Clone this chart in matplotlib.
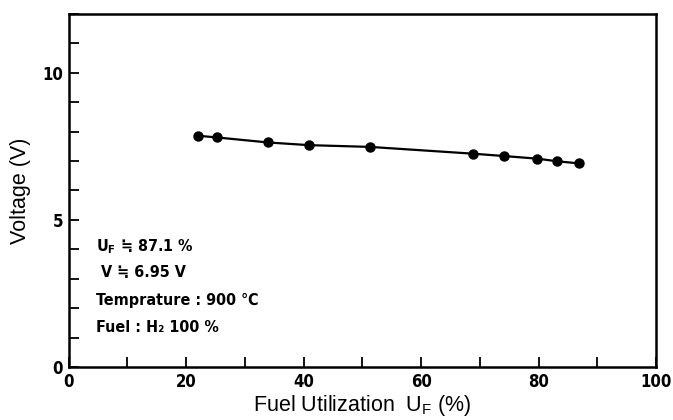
import matplotlib
matplotlib.use("Agg")
import matplotlib.pyplot as plt
from matplotlib.ticker import MultipleLocator

# fuel utilization (%) and stack voltage (V)
fuel_util = [22.0, 25.3, 34.0, 40.9, 51.3, 68.8, 74.1, 79.8, 83.2, 86.9]
voltage = [7.86, 7.80, 7.63, 7.54, 7.48, 7.25, 7.17, 7.08, 6.99, 6.92]

note_lines = ["U$_\\mathregular{F}$ ≒ 87.1 %", " V ≒ 6.95 V", "Temprature : 900 ℃", "Fuel : H₂ 100 %"]

cond = dict(family="DejaVu Sans", stretch="condensed", weight="bold")

fig = plt.figure(figsize=(6.73, 4.20), dpi=100)
ax = fig.add_axes([0.102, 0.126, 0.873, 0.841])

ax.plot(fuel_util, voltage, color="black", lw=1.6, marker="o", markersize=6.5)

ax.set_xlim(0, 100)
ax.set_ylim(0, 12)
ax.xaxis.set_major_locator(MultipleLocator(20))
ax.xaxis.set_minor_locator(MultipleLocator(10))
ax.set_yticks([0, 5, 10])
ax.yaxis.set_minor_locator(MultipleLocator(1))
ax.tick_params(which="both", direction="in", width=1.3, length=7, top=False, right=False)
ax.tick_params(axis="x", pad=4)
ax.tick_params(axis="y", pad=4)
for lab in ax.get_xticklabels() + ax.get_yticklabels():
    lab.set_fontfamily("DejaVu Sans")
    lab.set_fontstretch("condensed")
    lab.set_fontweight("bold")
    lab.set_fontsize(12)
for sp in ax.spines.values():
    sp.set_linewidth(1.8)

ax.set_xlabel("Fuel Utilization  U$_\\mathregular{F}$ (%)", family="Liberation Sans", fontsize=15.5, labelpad=2)
ax.set_ylabel("Voltage (V)", family="Liberation Sans", fontsize=15.5, labelpad=8)

note_y = [4.1, 3.2, 2.28, 1.35]
for txt, yy in zip(note_lines, note_y):
    ax.text(4.7, yy, txt, fontsize=11.5, va="center", ha="left", **cond)

fig.savefig("out.png", dpi=100)
